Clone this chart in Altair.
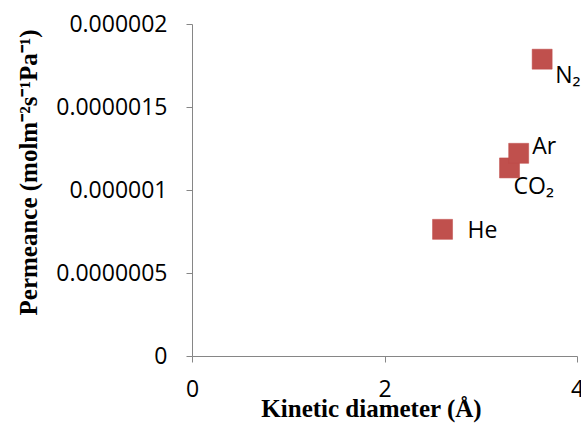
import altair as alt
import pandas as pd

# ---- data ----
gases = ["He", "CO₂", "Ar", "N₂"]
diameter = [2.603, 3.299, 3.394, 3.638]          # kinetic diameter (Å)
permeance = [7.63e-7, 1.133e-6, 1.221e-6, 1.788e-6]  # mol m-2 s-1 Pa-1
x_ticks = [0, 2, 4]
y_ticks = [0, 5e-7, 1e-6, 1.5e-6, 2e-6]

df = pd.DataFrame({"gas": gases, "d": diameter, "p": permeance})

# label placement (pixel offsets from each marker) - style, not data
label_offsets = {"He": (25, 2), "CO₂": (4, 19.5), "Ar": (13.5, -6.6), "N₂": (13, 16.5)}

AXIS_GREY = "#868686"
TICK_FONT = "Open Sans"
TITLE_FONT = "Liberation Serif"

x_enc = alt.X(
    "d:Q",
    scale=alt.Scale(domain=[0, 4], nice=False, zero=True),
    axis=alt.Axis(
        values=x_ticks,
        format="d",
        title="Kinetic diameter (Å)",
        titleFont=TITLE_FONT,
        titleFontSize=25,
        titleFontWeight="bold",
        titleColor="black",
        titleAlign="center",
        titleBaseline="alphabetic",
        titleX=179,
        titleY=60,
        labelFont=TICK_FONT,
        labelFontSize=23,
        labelColor="black",
        labelPadding=16,
        labelFlush=False,
        labelOverlap=False,
        tickSize=6,
        tickColor=AXIS_GREY,
        domainColor=AXIS_GREY,
        grid=False,
    ),
)
y_enc = alt.Y(
    "p:Q",
    scale=alt.Scale(domain=[0, 2e-6], nice=False, zero=True),
    axis=alt.Axis(
        values=y_ticks,
        format=".7~f",
        title="Permeance (molm⁻²s⁻¹Pa⁻¹)",
        titleFont=TITLE_FONT,
        titleFontSize=25,
        titleFontWeight="bold",
        titleColor="black",
        titleAngle=270,
        titleAlign="center",
        titleBaseline="alphabetic",
        titleX=-156,
        titleY=148,
        labelFont=TICK_FONT,
        labelFontSize=23,
        labelColor="black",
        labelPadding=19,
        labelFlush=False,
        labelOverlap=False,
        tickSize=6,
        tickColor=AXIS_GREY,
        domainColor=AXIS_GREY,
        grid=False,
    ),
)

base = alt.Chart(df)

points = base.mark_square(size=400, color="#C0504D", opacity=1, stroke="#BE4B48", strokeWidth=0.5).encode(
    x=x_enc, y=y_enc
)

layers = [points]
for g in gases:
    dx, dy = label_offsets[g]
    layers.append(
        base.transform_filter(alt.datum.gas == g)
        .mark_text(
            align="left",
            baseline="middle",
            dx=dx,
            dy=dy,
            font=TICK_FONT,
            fontSize=23,
            color="black",
        )
        .encode(x=alt.X("d:Q"), y=alt.Y("p:Q"), text="gas:N")
    )

chart = (
    alt.layer(*layers)
    .properties(
        width=385,
        height=332,
        autosize=alt.AutoSizeParams(type="none"),
        padding={"left": 192, "top": 24, "right": 4, "bottom": 69},
        background="white",
    )
    .configure_view(stroke=None)
)

chart.save("out.html", embed_options={"renderer": "svg", "actions": False})
